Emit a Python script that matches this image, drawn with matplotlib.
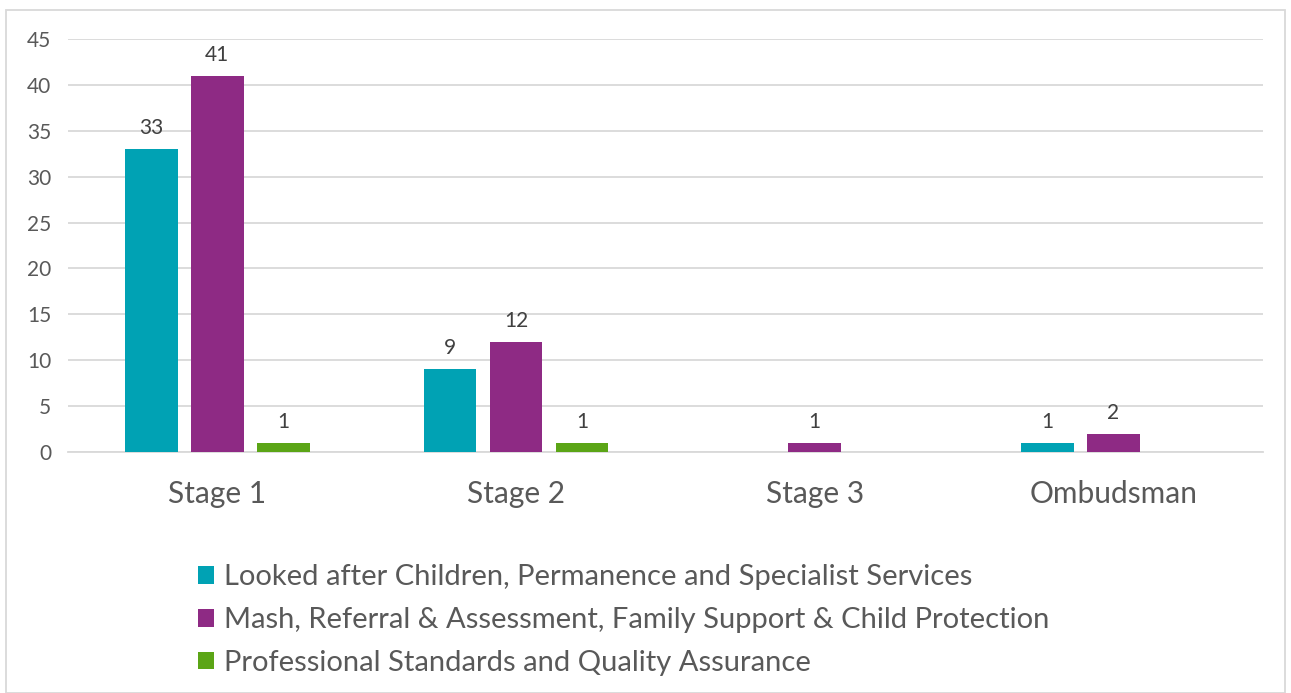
import numpy as np
import matplotlib.pyplot as plt
from matplotlib.patches import Rectangle

categories = ['Stage 1', 'Stage 2', 'Stage 3', 'Ombudsman']
series_names = [
    'Looked after Children, Permanence and Specialist Services',
    'Mash, Referral & Assessment, Family Support & Child Protection',
    'Professional Standards and Quality Assurance',
]
looked_after = [33, 9, 0, 1]
mash = [41, 12, 1, 2]
professional = [1, 1, 0, 0]
colors = ['#00A2B4', '#8E2A84', '#5BA516']

plt.rcParams['font.family'] = ['Lato', 'DejaVu Sans']

fig = plt.figure(figsize=(12.91, 6.93), dpi=100)
ax = fig.add_axes([0.0527, 0.3478, 0.9253, 0.5959])

x = np.arange(len(categories))
width = 0.177
offset = 0.221
all_series = [looked_after, mash, professional]

for i, (vals, name, col) in enumerate(zip(all_series, series_names, colors)):
    pos = x + (i - 1) * offset
    bars = ax.bar(pos, vals, width=width, color=col, label=name, zorder=3)
    # labels only on non-zero bars
    for b, v in zip(bars, vals):
        if v > 0:
            ax.annotate(str(v), (b.get_x() + b.get_width() / 2, v),
                        xytext=(0, 8), textcoords='offset points',
                        ha='center', va='bottom', fontsize=15, color='#404040')

ax.set_xlim(-0.5, 3.5)
ax.set_ylim(0, 45)
ax.set_yticks(range(0, 46, 5))
ax.set_xticks(x)
ax.set_xticklabels(categories, fontsize=21.5, color='#595959')
ax.tick_params(axis='y', labelsize=15, labelcolor='#595959', length=0, pad=12)
ax.tick_params(axis='x', length=0, pad=20)
ax.yaxis.grid(True, color='#D9D9D9', linewidth=1.3, zorder=0)
for s in ['top', 'right', 'left']:
    ax.spines[s].set_visible(False)
ax.spines['bottom'].set_color('#D9D9D9')
ax.spines['bottom'].set_linewidth(1.3)

fig.legend(loc='upper left', bbox_to_anchor=(0.142, 0.207), frameon=False,
           fontsize=21, labelcolor='#595959', handlelength=0.55, handleheight=0.55,
           handletextpad=0.35, labelspacing=0.58, borderpad=0)

# outer chart border
fig.patches.append(Rectangle((0.005, 0.0), 0.99, 0.986, transform=fig.transFigure,
                             fill=False, edgecolor='#D9D9D9', linewidth=1.3))

fig.savefig('out.png', dpi=100)
